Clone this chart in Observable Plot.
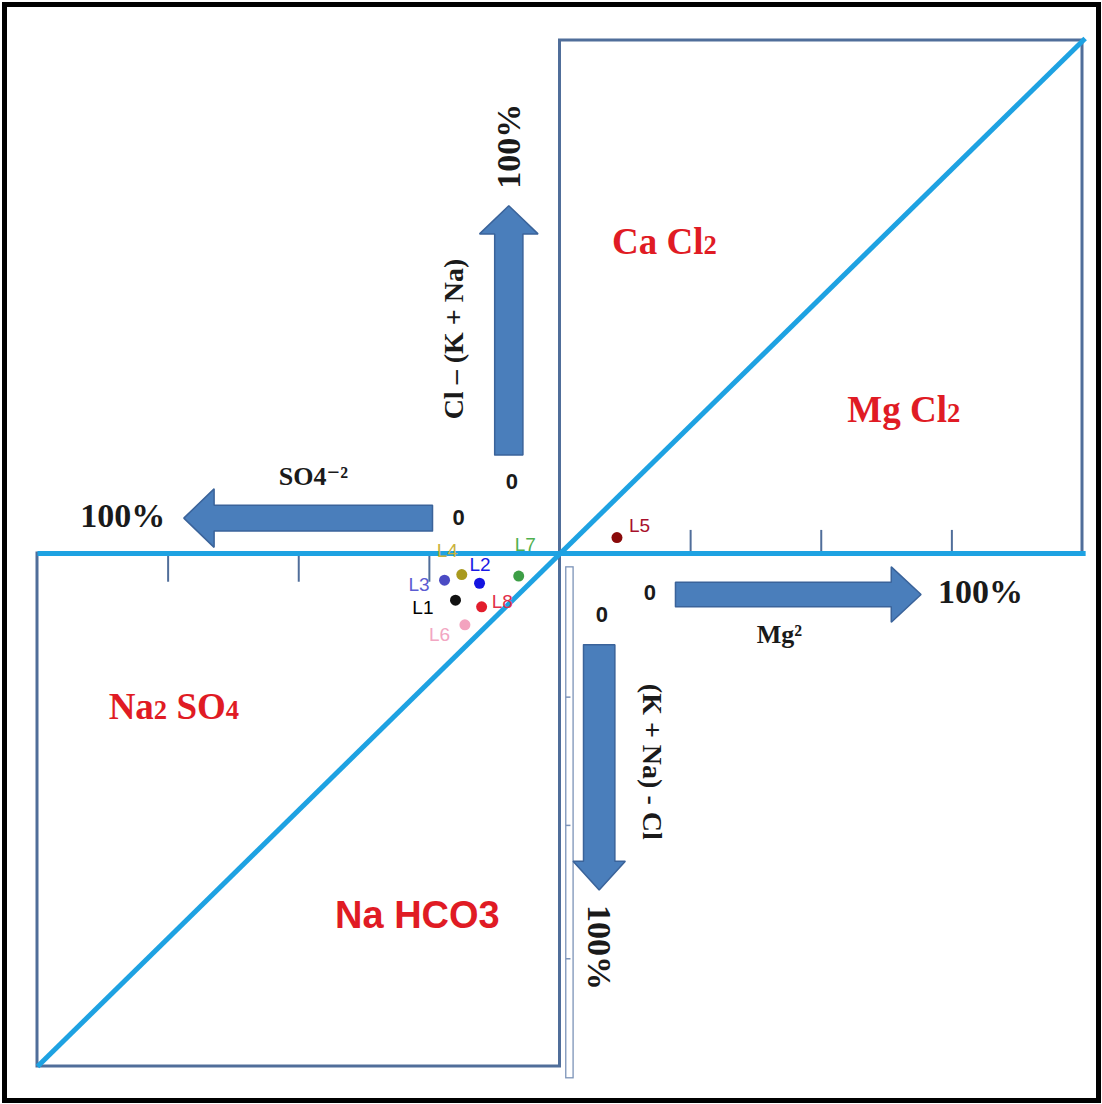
<!DOCTYPE html>
<html><head><meta charset="utf-8">
<script src="https://cdn.jsdelivr.net/npm/d3@7"></script>
<script src="https://cdn.jsdelivr.net/npm/@observablehq/plot@0.6"></script>
<style>body{margin:0;background:#fff}</style>
</head><body><div id="chart"></div>
<script>
// ---------- data (percent coordinates of the diagram) ----------
const samples = ["L1", "L2", "L3", "L4", "L5", "L6", "L7", "L8"];
const xPct = [-20.0, -15.4, -22.1, -18.8, 10.9, -18.2, -7.9, -15.0]; // + Mg²  /  − SO4⁻²
const yPct = [-9.1, -5.8, -5.2, -4.1, 3.1, -13.9, -4.4, -10.4];     // + Cl−(K+Na) / − (K+Na)−Cl
const upperTicks = [25, 50, 75];
const lowerTicks = [-75, -50, -25];
const stripTicks = [-28, -53, -79];
const fieldNames = ["Ca Cl2", "Mg Cl2", "Na2 SO4", "Na HCO3"];
const fieldX = [20.0, 65.8, -73.9, -27.3];
const fieldY = [60.6, 28.0, -30.0, -70.6];
const axisTexts = ["100%", "Cl – (K + Na)", "0", "0", "SO4⁻²", "100%", "0", "100%", "Mg²", "0", "(K + Na) - Cl", "100%"];
const axisTextX = [-9.8, -20.3, -9.2, -19.4, -47.2, -83.7, 17.2, 80.5, 42.0, 8.0, 17.6, 7.4];
const axisTextY = [79.4, 41.8, 13.9, 6.9, 14.9, 7.25, -7.7, -7.5, -15.9, -12.0, -40.6, -76.8];

// ---------- styles ----------
const SERIF = "'Liberation Serif', 'DejaVu Serif', serif";
const SANS = "'Liberation Sans', Arial, sans-serif";
const dotColor = {L1:"#111111", L2:"#1414e0", L3:"#4b4bc4", L4:"#a99a1e", L5:"#8a0a0a", L6:"#f3a3bf", L7:"#3d9e46", L8:"#e21d2c"};
const lab = {
  L1:{dx:-22, dy:8,  a:"end",   c:"#000000"},
  L2:{dx:-10, dy:-18, a:"start", c:"#1a1ae6"},
  L3:{dx:-15, dy:5,  a:"end",   c:"#5c5cd2"},
  L4:{dx:-25, dy:-24, a:"start", c:"#c9b23c"},
  L5:{dx:12,  dy:-12, a:"start", c:"#a8102c"},
  L6:{dx:-36, dy:10, a:"start", c:"#f2a6c2"},
  L7:{dx:-4,  dy:-31, a:"start", c:"#4fb04f"},
  L8:{dx:10,  dy:-5,  a:"start", c:"#e2304a"}
};
const axisStyle = [
  {r:-90, f:SERIF, s:34}, {r:-90, f:SERIF, s:28}, {f:SANS, s:22}, {f:SANS, s:22},
  {f:SERIF, s:26}, {f:SERIF, s:34}, {f:SANS, s:22}, {f:SERIF, s:34},
  {f:SERIF, s:26}, {f:SANS, s:22}, {r:90, f:SERIF, s:28}, {r:90, f:SERIF, s:34}
];
const fieldStyle = [
  {f:SERIF, s:37, w:"bold", smallDigits:true}, {f:SERIF, s:37, w:"bold", smallDigits:true},
  {f:SERIF, s:37, w:"bold", smallDigits:true}, {f:SANS, s:38, w:"bold", smallDigits:false}
];

// ---------- derived tables ----------
const pts = samples.map((s, i) => ({s, x: xPct[i], y: yPct[i], c: dotColor[s]}));
const boxes = [{x1: 0, x2: 100, y1: 0, y2: 100}, {x1: -100, x2: 0, y1: -100, y2: 0}];

// block arrows (axis-aligned), geometry in percent units
const arrows = [
  {id:"up",    x0:-9.8, y0:19.2, x1:-9.8, y1:67.8, sw:2.7, hw:5.6, hl:5.5},
  {id:"left",  x0:-24.4, y0:6.9, x1:-72.0, y1:6.9, sw:2.5, hw:5.7, hl:5.8},
  {id:"right", x0:22.1, y0:-8.0, x1:69.1, y1:-8.0, sw:2.4, hw:5.4, hl:5.7},
  {id:"down",  x0:7.5, y0:-17.8, x1:7.5, y1:-65.6, sw:3.0, hw:5.0, hl:5.6}
];
function arrowPoly(a) {
  let p;
  if (a.y0 === a.y1) {
    const d = Math.sign(a.x1 - a.x0), xb = a.x1 - d * a.hl, y = a.y0;
    p = [[a.x0, y - a.sw], [xb, y - a.sw], [xb, y - a.hw], [a.x1, y], [xb, y + a.hw], [xb, y + a.sw], [a.x0, y + a.sw]];
  } else {
    const d = Math.sign(a.y1 - a.y0), yb = a.y1 - d * a.hl, x = a.x0;
    p = [[x - a.sw, a.y0], [x - a.sw, yb], [x - a.hw, yb], [x, a.y1], [x + a.hw, yb], [x + a.sw, yb], [x + a.sw, a.y0]];
  }
  p.push(p[0]);
  return p.map(([x, y]) => ({id: a.id, x, y}));
}
const arrowPts = arrows.flatMap(arrowPoly);

const BOX = "#506e9a", LINE = "#1ea2e2";

const marks = [
  Plot.frame({stroke: "#000", strokeWidth: 5, inset: 4}),
  Plot.rect(boxes, {x1: "x1", x2: "x2", y1: "y1", y2: "y2", fill: "none", stroke: BOX, strokeWidth: 3}),
  // narrow vertical strip below the centre
  Plot.rect([{x1: 1.2, x2: 2.6, y1: -2.7, y2: -102.3}], {x1: "x1", x2: "x2", y1: "y1", y2: "y2", fill: "none", stroke: "#7c93b8", strokeWidth: 1.3}),
  Plot.ruleY(stripTicks.map(v => ({v})), {y: "v", x1: () => 1.2, x2: () => 2.1, stroke: "#7c93b8", strokeWidth: 1.5}),
  Plot.ruleX(upperTicks.map(v => ({v})), {x: "v", y1: () => 0, y2: () => 4.5, stroke: BOX, strokeWidth: 2}),
  Plot.ruleX(lowerTicks.map(v => ({v})), {x: "v", y1: () => 0, y2: () => -5.6, stroke: BOX, strokeWidth: 2}),
  Plot.line([{x: -100, y: 0}, {x: 100.6, y: 0}], {x: "x", y: "y", stroke: LINE, strokeWidth: 5, strokeLinecap: "butt"}),
  Plot.line([{x: -100, y: -100}, {x: 100.5, y: 100.4}], {x: "x", y: "y", stroke: LINE, strokeWidth: 5, strokeLinecap: "butt"}),
  Plot.line(arrowPts, {x: "x", y: "y", z: "id", fill: "#4a7ebb", stroke: "#3a639a", strokeWidth: 1.5, strokeLinejoin: "miter"}),
  ...axisTexts.map((t, i) => Plot.text([{t, x: axisTextX[i], y: axisTextY[i]}], {
    x: "x", y: "y", text: "t", rotate: axisStyle[i].r || 0, fontFamily: axisStyle[i].f,
    fontSize: axisStyle[i].s, fontWeight: "bold", fill: "#1a1a1a"
  })),
  ...fieldNames.map((t, i) => Plot.text([{t, x: fieldX[i], y: fieldY[i]}], {
    x: "x", y: "y", text: "t", fontFamily: fieldStyle[i].f, fontSize: fieldStyle[i].s,
    fontWeight: fieldStyle[i].w, fill: "#e01b24"
  })),
  Plot.dot(pts, {x: "x", y: "y", r: 5.5, fill: "c", stroke: "none"}),
  ...pts.map(p => Plot.text([p], {
    x: "x", y: "y", text: "s", dx: lab[p.s].dx, dy: lab[p.s].dy, textAnchor: lab[p.s].a,
    fill: lab[p.s].c, fontFamily: SANS, fontSize: 19
  }))
];

const chart = Plot.plot({
  width: 1102, height: 1104,
  marginTop: 0, marginRight: 0, marginBottom: 0, marginLeft: 0,
  x: {type: "linear", domain: [-100, 100], range: [37, 1082], axis: null},
  y: {type: "linear", domain: [-100, 100], range: [1066, 40], axis: null},
  color: {type: "identity"},
  style: {background: "#fff", overflow: "visible"},
  marks
});

// smaller digits (as in the original formulas) for the field names
fieldNames.forEach((name, i) => {
  if (!fieldStyle[i].smallDigits) return;
  chart.querySelectorAll("text").forEach(el => {
    if (el.textContent !== name) return;
    el.textContent = "";
    for (const ch of name) {
      if (/[0-9]/.test(ch)) {
        const ts = document.createElementNS("http://www.w3.org/2000/svg", "tspan");
        ts.setAttribute("font-size", "72%");
        ts.textContent = ch;
        el.appendChild(ts);
      } else {
        el.appendChild(document.createTextNode(ch));
      }
    }
  });
});
document.getElementById("chart").appendChild(chart);
</script>
</body></html>
